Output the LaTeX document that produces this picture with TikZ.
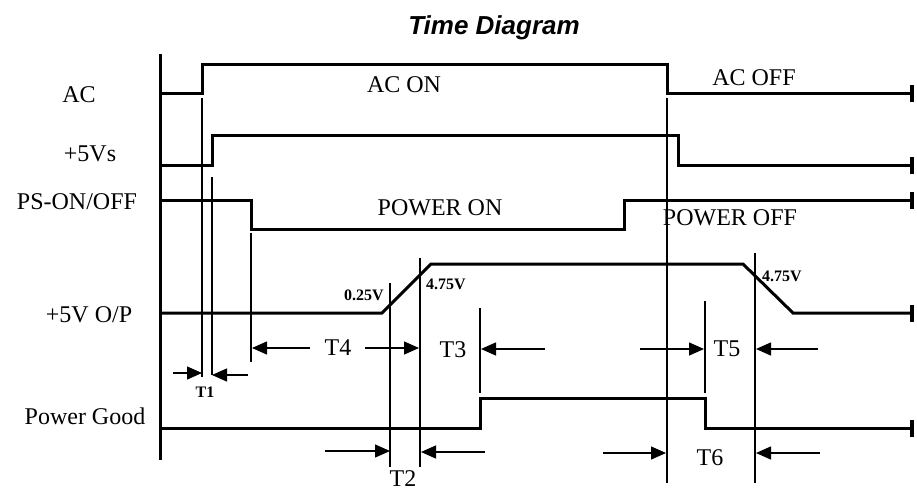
\documentclass[tikz,border=0pt]{standalone}
\usepackage{fontspec}
\setmainfont{Liberation Serif}
\newfontfamily\titlefont{Liberation Sans}
\usetikzlibrary{arrows.meta}
\begin{document}
\begin{tikzpicture}[x=1pt,y=-1pt,
  wave/.style={line width=3pt,-{Bar[width=17pt,line width=4pt]}},
  axisline/.style={line width=3pt},
  guide/.style={line width=1.3pt},
  dimarrow/.style={line width=1.3pt,-{Triangle[length=15pt,width=13pt]}},
  lab/.style={font=\fontsize{24}{24}\selectfont,inner sep=0pt},
  smalllab/.style={font=\bfseries\fontsize{16}{16}\selectfont,inner sep=0pt}]
\useasboundingbox[fill=white] (0,0) rectangle (917,491);

% title
\node[inner sep=0pt,anchor=base,font=\titlefont\bfseries\itshape\fontsize{26}{26}\selectfont] (title) at (494,34) {Time Diagram};

% axis
\draw[axisline] (160,54) -- (160,460);

% waveforms
\draw[wave] (160,93) -- (202,93) -- (202,64) -- (667,64) -- (667,93) -- (914,93);
\draw[wave] (160,165) -- (212,165) -- (212,135) -- (678,135) -- (678,165) -- (914,165);
\draw[wave] (160,200) -- (251,200) -- (251,229) -- (624,229) -- (624,200) -- (914,200);
\draw[wave] (160,313) -- (382,313) -- (431,264) -- (743,264) -- (793,313) -- (914,313);
\draw[wave] (160,428) -- (480,428) -- (480,398) -- (705,398) -- (705,428) -- (914,428);

% guide lines
\draw[guide] (202,98) -- (202,377);
\draw[guide] (212,177) -- (212,375);
\draw[guide] (251,233) -- (251,362);
\draw[guide] (390,283) -- (390,467);
\draw[guide] (420,258) -- (420,467);
\draw[guide] (480,308) -- (480,393);
\draw[guide] (667,98) -- (667,483);
\draw[guide] (705,301) -- (705,393);
\draw[guide] (755,253) -- (755,483);

% dimension arrows
\draw[dimarrow] (173,373) -- (202,373);
\draw[dimarrow] (248,375) -- (212,375);
\draw[dimarrow] (310,348) -- (252,348);
\draw[dimarrow] (365,348) -- (419,348);
\draw[dimarrow] (545,349) -- (481,349);
\draw[dimarrow] (325,451) -- (390,451);
\draw[dimarrow] (485,452) -- (421,452);
\draw[dimarrow] (640,349) -- (704,349);
\draw[dimarrow] (818,349) -- (756,349);
\draw[dimarrow] (603,453) -- (666,453);
\draw[dimarrow] (820,453) -- (756,453);

% signal names
\node[lab] (lac) at (79,95) {AC};
\node[lab] (l5vs) at (90,154) {+5Vs};
\node[lab] (lps) at (77,202) {PS-ON/OFF};
\node[lab] (lop) at (89,315) {+5V O/P};
\node[lab] (lpg) at (85,416) {Power Good};

% state labels
\node[lab] (acon) at (404,85) {AC ON};
\node[lab] (acoff) at (754,78) {AC OFF};
\node[lab] (pwon) at (440,208) {POWER ON};
\node[lab] (pwoff) at (730,218) {POWER OFF};

% voltage labels
\node[smalllab] (v1) at (364,295) {0.25V};
\node[smalllab] (v2) at (446,284) {4.75V};
\node[smalllab] (v3) at (782,276) {4.75V};

% timing labels
\node[smalllab] (t1) at (205,392) {T1};
\node[lab] (t2) at (403,479) {T2};
\node[lab] (t3) at (453,350) {T3};
\node[lab] (t4) at (338,348) {T4};
\node[lab] (t5) at (727,349) {T5};
\node[lab] (t6) at (710,458) {T6};
\end{tikzpicture}
\end{document}
